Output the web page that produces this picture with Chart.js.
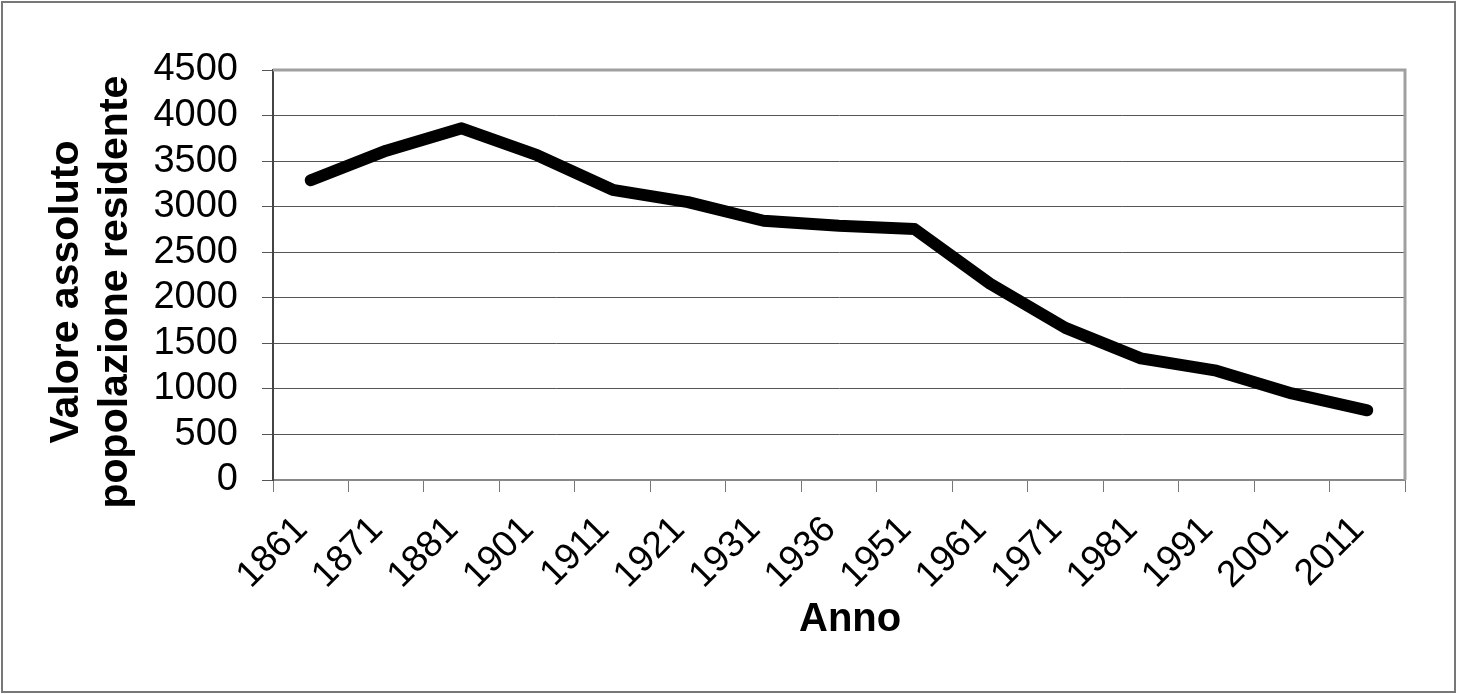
<!DOCTYPE html>
<html>
<head>
<meta charset="utf-8">
<script src="https://cdn.jsdelivr.net/npm/chart.js"></script>
<style>
  body { margin: 0; background: #fff; }
  #wrap { width: 1457px; height: 694px; }
</style>
</head>
<body>
<div id="wrap"><canvas id="myChart" width="1457" height="694"></canvas></div>
<script>
'use strict';
let years = ['1861', '1871', '1881', '1901', '1911', '1921', '1931', '1936', '1951', '1961', '1971', '1981', '1991', '2001', '2011'];
let population = [3290, 3615, 3860, 3565, 3185, 3050, 2845, 2790, 2755, 2155, 1670, 1335, 1200, 950, 765];
let yTitle = ['Valore assoluto   ', 'popolazione residente   '];
let xTitle = '  Anno';

// white page, outer border and the grey frame on top/right of the plot
let framePlugin = {
    id: 'frame',
    beforeDraw(chart) {
        let ctx = chart.ctx;
        ctx.save();
        ctx.fillStyle = '#fff';
        ctx.fillRect(0, 0, chart.width, chart.height);
        ctx.restore();
    },
    afterDraw(chart) {
        let ctx = chart.ctx;
        let a = chart.chartArea;
        ctx.save();
        ctx.strokeStyle = '#a0a0a0';
        ctx.lineWidth = 3;
        ctx.beginPath();
        ctx.moveTo(a.left, a.top);
        ctx.lineTo(a.right, a.top);
        ctx.lineTo(a.right, a.bottom);
        ctx.stroke();
        ctx.strokeStyle = '#777';
        ctx.lineWidth = 2;
        ctx.strokeRect(2, 2, chart.width - 4, chart.height - 4);
        ctx.restore();
    }
};

let ctx = document.getElementById('myChart').getContext('2d');
let myChart = new Chart(ctx, {
    type: 'line',
    data: {
        labels: years,
        datasets: [{
            data: population,
            borderColor: '#000',
            borderWidth: 12,
            borderCapStyle: 'round',
            borderJoinStyle: 'round',
            pointRadius: 0,
            tension: 0,
            fill: false
        }]
    },
    plugins: [framePlugin],
    options: {
        responsive: false,
        animation: false,
        layout: { padding: { top: 70, right: 52, left: 0, bottom: 0 } },
        plugins: {
            legend: { display: false },
            tooltip: { enabled: false }
        },
        scales: {
            x: {
                offset: true,
                afterFit: function (s) { s.height = 214; },
                grid: {
                    offset: true,
                    drawOnChartArea: false,
                    drawTicks: true,
                    tickLength: 12,
                    color: '#777'
                },
                border: { color: '#888', width: 2 },
                ticks: {
                    minRotation: 45,
                    maxRotation: 45,
                    autoSkip: false,
                    labelOffset: -9,
                    color: '#000',
                    padding: 16,
                    font: { family: 'Liberation Sans, Arial', size: 37 }
                },
                title: {
                    display: true,
                    text: xTitle,
                    color: '#000',
                    padding: { top: 0, bottom: 50 },
                    font: { family: 'Liberation Sans, Arial', size: 40, weight: 'bold', lineHeight: 1.2 }
                }
            },
            y: {
                min: 0,
                max: 4500,
                afterFit: function (s) { s.width = 273; },
                grid: {
                    color: '#555',
                    lineWidth: 1,
                    tickLength: 11
                },
                border: { color: '#444', width: 2 },
                ticks: {
                    stepSize: 500,
                    autoSkip: false,
                    color: '#000',
                    padding: 24,
                    callback: function (v) { return String(v); },
                    font: { family: 'Liberation Sans, Arial', size: 38, lineHeight: 1 }
                },
                title: {
                    display: true,
                    text: yTitle,
                    color: '#000',
                    padding: { top: 42, bottom: 0 },
                    font: { family: 'Liberation Sans, Arial', size: 41, weight: 'bold', lineHeight: 1.2 }
                }
            }
        }
    }
});
</script>
</body>
</html>
